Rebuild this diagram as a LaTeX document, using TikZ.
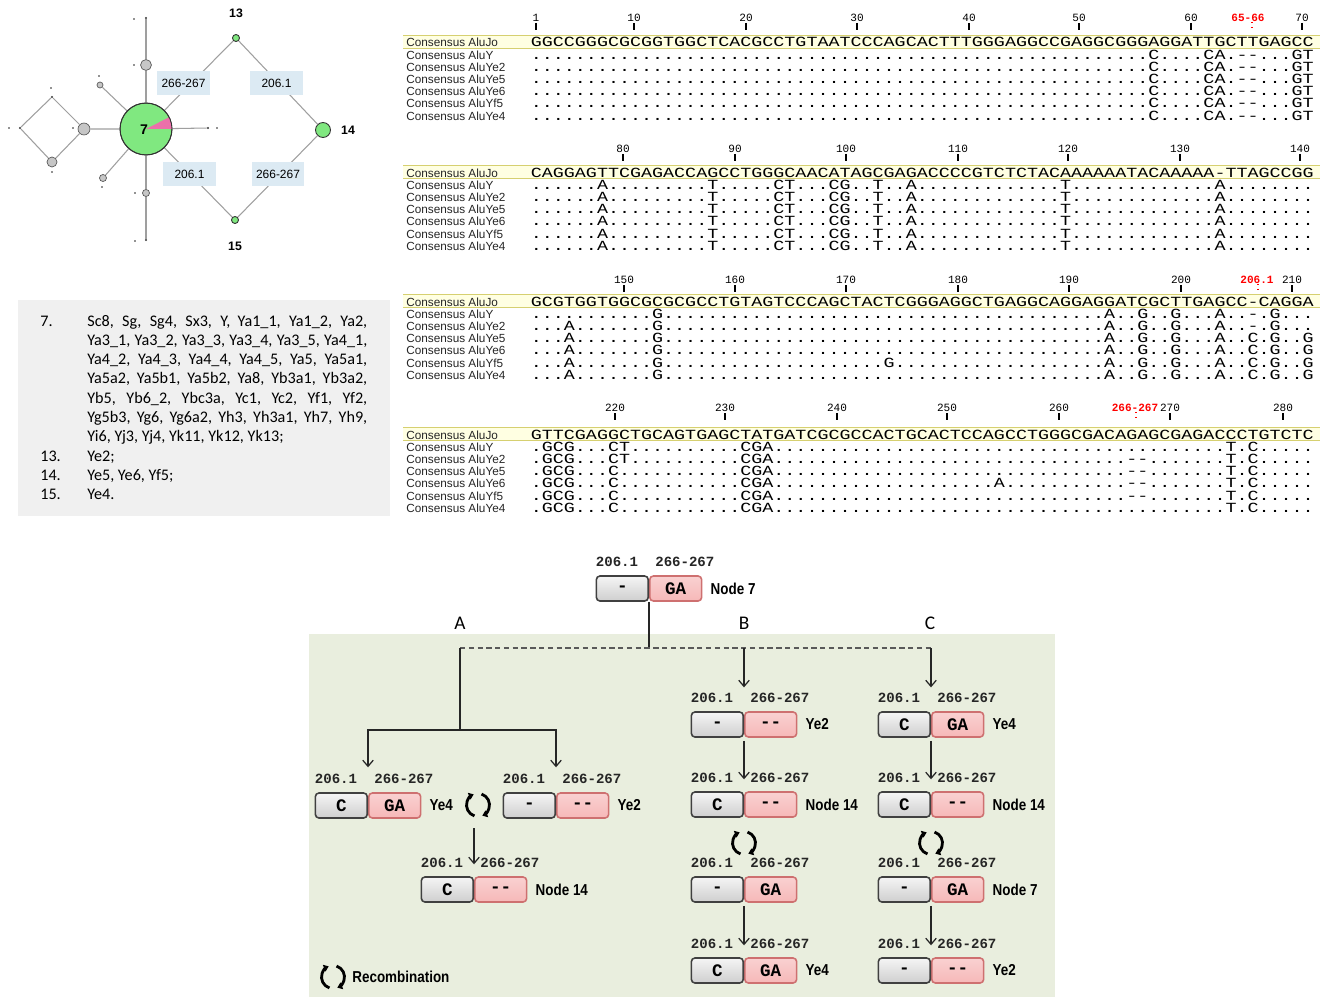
\documentclass[tikz,border=0pt]{standalone}
\usepackage{fontspec}
\setmainfont{Liberation Sans}
\setmonofont{Liberation Mono}
\newfontfamily\legfont{Carlito}
\newfontfamily\narrowfont[FakeStretch=0.85]{Liberation Sans}
\usetikzlibrary{arrows.meta}

\definecolor{hapgreen}{RGB}{128,232,128}
\definecolor{wedgepink}{RGB}{236,112,170}
\definecolor{mutblue}{RGB}{220,234,243}
\definecolor{legbg}{RGB}{240,240,240}
\definecolor{panelbg}{RGB}{233,238,222}
\definecolor{bandfill}{RGB}{255,255,226}
\definecolor{bandline}{RGB}{214,208,112}
\definecolor{pinkfill}{RGB}{246,184,184}
\definecolor{pinkline}{RGB}{206,112,112}

% row of n dots
\ExplSyntaxOn
\NewDocumentCommand\ndot{m}{\prg_replicate:nn{#1}{.}}
\ExplSyntaxOff
% flattened sequence text
\newcommand{\sq}[1]{\scalebox{1}[0.76]{#1}}

% recombination sign
\newcommand{\recomb}[1]{%
  \draw[line width=1.6pt,-{Triangle[length=2.8pt,width=4pt]}] ([shift={(-252:11.5)}]#1) arc (-252:-112:11.5);
  \draw[line width=1.6pt,-{Triangle[length=2.8pt,width=4pt]}] ([shift={(-72:11.5)}]#1) arc (-72:68:11.5);}

\tikzset{
  seq/.style={font=\ttfamily\fontsize{10.46}{12}\selectfont, inner sep=0, anchor=base west},
  rowname/.style={font=\fontsize{6.7}{8}\selectfont, inner sep=0, anchor=base west, text=black!85},
  posnum/.style={font=\ttfamily\fontsize{6.3}{7}\selectfont, inner sep=0},
  redpos/.style={posnum, font=\ttfamily\bfseries\fontsize{6.3}{7}\selectfont, text=red},
  hap/.style={circle, draw=black!80, fill=hapgreen, inner sep=0, line width=0.5pt},
  mv/.style={circle, draw=gray!70!black, fill=gray!45, inner sep=0, line width=0.4pt},
  dotn/.style={circle, fill=gray!40!black, inner sep=0, minimum size=1.3pt},
  markn/.style={circle, fill=gray!30!black, inner sep=0, minimum size=1.1pt},
  netline/.style={gray!75, line width=0.6pt},
  mutbox/.style={fill=mutblue, inner sep=0, minimum width=30pt, minimum height=13.6pt, font=\fontsize{6.8}{8}\selectfont},
  hapnum/.style={font=\bfseries\fontsize{7}{8}\selectfont, inner sep=0},
  legtxt/.style={font=\legfont\fontsize{9.2}{11}\selectfont, inner sep=0, anchor=base west},
  gbox/.style={draw=black!75, line width=0.9pt, rounded corners=2pt, top color=gray!8, bottom color=gray!38,
    minimum width=29.5pt, minimum height=14.2pt, inner sep=0, font=\ttfamily\bfseries\fontsize{10}{10}\selectfont},
  pbox/.style={gbox, draw=pinkline, top color=pinkfill!65, bottom color=pinkfill},
  poslbl/.style={font=\ttfamily\bfseries\fontsize{8}{9}\selectfont, inner sep=0, anchor=base west, text=black!85},
  tiplbl/.style={font=\narrowfont\bfseries\fontsize{9}{10}\selectfont, inner sep=0, anchor=west},
  collbl/.style={font=\legfont\fontsize{11}{12}\selectfont, inner sep=0},
  conn/.style={line width=0.7pt, black!85},
  >={Straight Barb[length=3.5pt,width=6pt]}
}

\begin{document}
\begin{tikzpicture}[x=0.02cm,y=-0.02cm]
\useasboundingbox (0,0) rectangle (1329,997);
\fill[white] (0,0) rectangle (1329,997);

% haplotype network
\node[dotn] (d1) at (146,18) {};
\node[mv,minimum size=6.2pt] (g1) at (146,65) {};
\node[mv,minimum size=4pt] (g2) at (146,193) {};
\node[dotn] (d2) at (146,240) {};
\node[mv,minimum size=6.8pt] (g3) at (84,129) {};
\node[dotn] (dt) at (52,97) {};
\node[dotn] (dl) at (20,128) {};
\node[mv,minimum size=5.7pt] (g4) at (52,162) {};
\node[mv,minimum size=3.4pt] (g5) at (100,85) {};
\node[mv,minimum size=4pt] (g6) at (103,178) {};
\node[dotn] (dr) at (208,128) {};
\node[hap,minimum size=29.5pt] (n7) at (146,129) {};
\node[hap,minimum size=4pt] (n13) at (236,38) {};
\node[hap,minimum size=8.5pt] (n14) at (323,130) {};
\node[hap,minimum size=4pt] (n15) at (235,220) {};
\foreach \x/\y [count=\i] in {134/19,134/65,99/76,51/88,9/128,73/128,52/172,102/187,135/193,135/241,217/128}
  \node[markn] (m\i) at (\x,\y) {};

\draw[netline] (d1) -- (g1) -- (n7) -- (g2) -- (d2);
\draw[netline] (n7) -- (g3) -- (dt) -- (dl) -- (g4) -- (g3);
\draw[netline] (n7) -- (g5) (n7) -- (g6) (n7) -- (dr);
\draw[netline] (n7) -- (n13) -- (n14) -- (n15) -- (n7);

\fill[wedgepink] (n7.center) -- ++(0:26) arc (0:-27:26) -- cycle;
\draw[black!80,line width=0.5pt] (n7.center) circle (26);
\node[hapnum,font=\bfseries\fontsize{8}{8}\selectfont] (l7) at (144,130) {7};

\node[mutbox] (mb1) at (183.5,83) {266-267};
\node[mutbox] (mb2) at (276.5,83) {206.1};
\node[mutbox] (mb3) at (189.5,174) {206.1};
\node[mutbox] (mb4) at (278,174) {266-267};
\node[hapnum] (t13) at (236,13) {13};
\node[hapnum] (t14) at (348,130) {14};
\node[hapnum] (t15) at (235,246) {15};

% haplotype list
\fill[legbg] (18,300) rectangle (390,516);
\node[legtxt] (k7) at (40,326) {7.};
\foreach \lst [count=\i] in {{Sc8, Sg, Sg4, Sx3, Y, Ya1\_1, Ya1\_2, Ya2,},{Ya3\_1, Ya3\_2, Ya3\_3, Ya3\_4, Ya3\_5, Ya4\_1,},{Ya4\_2, Ya4\_3, Ya4\_4, Ya4\_5, Ya5, Ya5a1,},{Ya5a2, Ya5b1, Ya5b2, Ya8, Yb3a1, Yb3a2,},{Yb5, Yb6\_2, Ybc3a, Yc1, Yc2, Yf1, Yf2,},{Yg5b3, Yg6, Yg6a2, Yh3, Yh3a1, Yh7, Yh9,}}
  \node[legtxt] (hl\i) at (87,{326+19.33*(\i-1)}) {\makebox[159.3pt][s]{\lst}};
\node[legtxt] (hl7) at (87,{326+19.33*6}) {Yi6, Yj3, Yj4, Yk11, Yk12, Yk13;};
\node[legtxt] (k13) at (40,{326+19.33*7}) {13.};
\node[legtxt] (h13) at (87,{326+19.33*7}) {Ye2;};
\node[legtxt] (k14) at (40,{326+19.33*8}) {14.};
\node[legtxt] (h14) at (87,{326+19.33*8}) {Ye5, Ye6, Yf5;};
\node[legtxt] (k15) at (40,{326+19.33*9}) {15.};
\node[legtxt] (h15) at (87,{326+19.33*9}) {Ye4.};

% alignment
\foreach \by/\bc in {47/42,177/172,306/301,439/434}{
  \fill[bandfill] (403,\bc-6.5) rectangle (1320,\bc+6.5);
  \draw[bandline,line width=1.1pt] (403,\bc-6.5) -- (1320,\bc-6.5) (403,\bc+6.5) -- (1320,\bc+6.5);
  \foreach \nm [count=\k from 0] in {AluJo,AluY,AluYe2,AluYe5,AluYe6,AluYf5,AluYe4}
    \node[rowname] (nm\by-\k) at (406,{\by+12.2*\k}) {Consensus \nm};
}
\foreach \n/\x/\y in {1/536/18,10/634/18,20/746/18,30/857/18,40/969/18,50/1079/18,60/1191/18,70/1302/18,
    80/623/149,90/735/149,100/846/149,110/958/149,120/1068/149,130/1180/149,140/1300/149,
    150/624/280,160/735/280,170/846/280,180/958/280,190/1069/280,200/1181/280,210/1292/280,
    220/615/408,230/725/408,240/837/408,250/947/408,260/1059/408,270/1170/408,280/1283/408}{
  \node[posnum] (p\n) at (\x,\y) {\n};
  \draw[line width=0.9pt] (\x,\y+5) -- (\x,\y+12);
}
\node[redpos] (r1) at (1248,18) {65-66};
\draw[red,dotted,line width=0.8pt] (1252,22) -- (1252,30);
\node[redpos] (r2) at (1257,280) {206.1};
\draw[red,dotted,line width=0.8pt] (1258,284) -- (1258,292);
\node[redpos] (r3) at (1135,408) {266-267};
\draw[red,dotted,line width=0.8pt] (1136,412) -- (1136,420);

\node[seq] (s1-0) at (530.5,47) {\sq{GGCCGGGCGCGGTGGCTCACGCCTGTAATCCCAGCACTTTGGGAGGCCGAGGCGGGAGGATTGCTTGAGCC}};
\foreach \k in {1,...,6}
  \node[seq] (s1-\k) at (530.5,{47+12.2*\k}) {\sq{\ndot{56}C....CA.--...GT}};

\node[seq] (s2-0) at (530.5,177) {\sq{CAGGAGTTCGAGACCAGCCTGGGCAACATAGCGAGACCCCGTCTCTACAAAAAATACAAAAA-TTAGCCGG}};
\foreach \k in {1,...,6}
  \node[seq] (s2-\k) at (530.5,{177+12.2*\k}) {\sq{\ndot{6}A\ndot{9}T\ndot{5}CT\ndot{3}CG\ndot{2}T\ndot{2}A\ndot{13}T\ndot{13}A\ndot{8}}};

\node[seq] (s3-0) at (530.5,306) {\sq{GCGTGGTGGCGCGCGCCTGTAGTCCCAGCTACTCGGGAGGCTGAGGCAGGAGGATCGCTTGAGCC-CAGGA}};
\node[seq] (s3-1) at (530.5,318.2) {\sq{\ndot{11}G\ndot{40}A..G..G...A..-.G...}};
\node[seq] (s3-2) at (530.5,330.4) {\sq{\ndot{3}A\ndot{7}G\ndot{40}A..G..G...A..-.G...}};
\node[seq] (s3-3) at (530.5,342.6) {\sq{\ndot{3}A\ndot{7}G\ndot{40}A..G..G...A..C.G..G}};
\node[seq] (s3-4) at (530.5,354.8) {\sq{\ndot{3}A\ndot{7}G\ndot{40}A..G..G...A..C.G..G}};
\node[seq] (s3-5) at (530.5,367) {\sq{\ndot{3}A\ndot{7}G\ndot{20}G\ndot{19}A..G..G...A..C.G..G}};
\node[seq] (s3-6) at (530.5,379.2) {\sq{\ndot{3}A\ndot{7}G\ndot{40}A..G..G...A..C.G..G}};

\node[seq] (s4-0) at (530.5,439) {\sq{GTTCGAGGCTGCAGTGAGCTATGATCGCGCCACTGCACTCCAGCCTGGGCGACAGAGCGAGACCCTGTCTC}};
\node[seq] (s4-1) at (530.5,451.2) {\sq{.GCG...CT\ndot{10}CGA\ndot{41}T.C\ndot{5}}};
\node[seq] (s4-2) at (530.5,463.4) {\sq{.GCG...CT\ndot{10}CGA\ndot{32}--\ndot{7}T.C\ndot{5}}};
\node[seq] (s4-3) at (530.5,475.6) {\sq{.GCG...C.\ndot{10}CGA\ndot{32}--\ndot{7}T.C\ndot{5}}};
\node[seq] (s4-4) at (530.5,487.8) {\sq{.GCG...C.\ndot{10}CGA\ndot{20}A\ndot{11}--\ndot{7}T.C\ndot{5}}};
\node[seq] (s4-5) at (530.5,500) {\sq{.GCG...C.\ndot{10}CGA\ndot{32}--\ndot{7}T.C\ndot{5}}};
\node[seq] (s4-6) at (530.5,512.2) {\sq{.GCG...C.\ndot{10}CGA\ndot{41}T.C\ndot{5}}};

% recombination scenarios
\fill[panelbg] (309,634) rectangle (1055,997);
\node[collbl] (la) at (460,623) {A};
\node[collbl] (lb) at (744,623) {B};
\node[collbl] (lc) at (930,623) {C};

\foreach \nm/\x/\y/\gtxt/\ptxt/\hname in {t/649/588.5/-/GA/Node 7,
    a1/368/805.5/C/GA/Ye4, a2/556/805.5/-/--/Ye2, a3/474/889.5/C/--/Node 14,
    b1/744/724.5/-/--/Ye2, b2/744/804.5/C/--/Node 14, b3/744/889.5/-/GA/{}, b4/744/970.5/C/GA/Ye4,
    c1/931/724.5/C/GA/Ye4, c2/931/804.5/C/--/Node 14, c3/931/889.5/-/GA/Node 7, c4/931/970.5/-/--/Ye2}{
  \node[pbox,anchor=west] (p\nm) at (\x,\y) {\ptxt};
  \node[gbox,anchor=east] (g\nm) at (\x,\y) {\gtxt};
  \node[poslbl] (s\nm) at ([yshift=5.1pt]g\nm.north west) {206.1};
  \node[poslbl] (i\nm) at ([shift={(3.4pt,5.1pt)}]p\nm.north west) {266-267};
  \node[tiplbl] (h\nm) at ([xshift=4.5pt]p\nm.east) {\hname};
}

\coordinate (split) at (649,648);
\coordinate (sa) at (460,648);
\coordinate (sb) at (744,648);
\coordinate (sc) at (931,648);
\coordinate (ja) at (460,730);
\draw[conn] (gt.south east) -- (split);
\draw[gray!70!black, line width=0.7pt, dash pattern=on 3pt off 2pt] (sa) -- (sc);
\draw[conn] (sa) -- (ja);
\draw[conn,->,shorten >=14.2pt] (ja) -| (ga1.north east);
\draw[conn,->,shorten >=14.2pt] (ja) -| (ga2.north east);
\draw[conn,->,shorten >=13.6pt] (sb) -- (gb1.north east);
\draw[conn,->,shorten >=13.6pt] (sc) -- (gc1.north east);
\foreach \u/\v in {b1/b2,b3/b4,c1/c2,c3/c4}
  \draw[conn,->,shorten <=1.7pt,shorten >=6.8pt] (g\u.south east) -- (g\v.north east);

\coordinate (ra) at (478,805);
\coordinate (rb) at (744,843);
\coordinate (rc) at (931,843);
\coordinate (rl) at (333,977);
\recomb{ra}
\recomb{rb}
\recomb{rc}
\recomb{rl}
\coordinate (rab) at (474,828);
\draw[conn,->,shorten >=6.8pt] (rab) -- (ga3.north east);
\node[tiplbl] (rtxt) at (352,977) {Recombination};

\end{tikzpicture}
\end{document}
